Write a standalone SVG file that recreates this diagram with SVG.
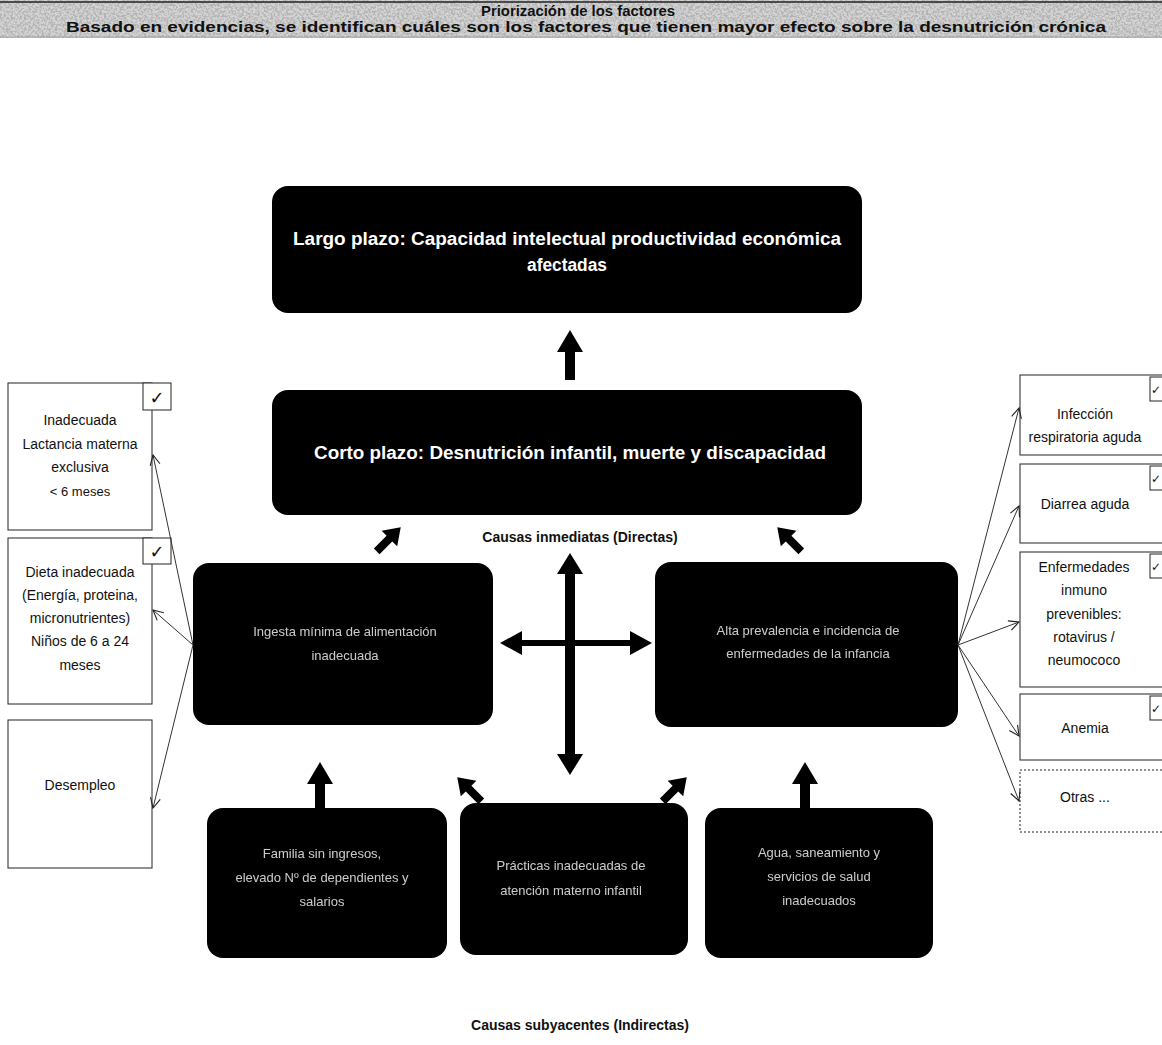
<svg xmlns="http://www.w3.org/2000/svg" width="1162" height="1045" viewBox="0 0 1162 1045">
<defs>
<filter id="noise" x="0" y="0" width="100%" height="100%">
<feTurbulence type="fractalNoise" baseFrequency="0.45" numOctaves="3" seed="7" result="t"/>
<feColorMatrix in="t" type="matrix" values="0 0 0 0 0.45  0 0 0 0 0.45  0 0 0 0 0.45  4 0 0 0 -1.6" result="g"/>
<feComposite in="g" in2="SourceGraphic" operator="in"/>
</filter>
<marker id="open" viewBox="0 0 12 12" refX="11" refY="6" markerWidth="12" markerHeight="12" markerUnits="userSpaceOnUse" orient="auto">
<path d="M1,1 L11,6 L1,11" fill="none" stroke="#222" stroke-width="1.1"/>
</marker>
<path id="upArrow" d="M0,-26 L13,-4 L5,-4 L5,24 L-5,24 L-5,-4 L-13,-4 Z"/>
<path id="smallArrow" d="M0,-18 L11,-2 L4,-2 L4,16 L-4,16 L-4,-2 L-11,-2 Z"/>
</defs>
<style>
.dark{fill:#000;}
.wt{fill:#fff;font-family:"Liberation Sans",Arial,sans-serif;font-weight:bold;text-anchor:middle;}
.dt{fill:#eee;font-family:"Liberation Sans",Arial,sans-serif;font-size:13px;text-anchor:middle;opacity:0.85;}
.box{fill:#fff;stroke:#222;stroke-width:1;}
.bt{fill:#111;font-family:"Liberation Sans",Arial,sans-serif;font-size:14px;text-anchor:middle;}
.lbl{fill:#111;font-family:"Liberation Sans",Arial,sans-serif;font-size:14px;font-weight:bold;text-anchor:middle;}
.ck{fill:#fff;stroke:#222;stroke-width:1;}
.ckt{fill:#111;font-family:"DejaVu Sans",sans-serif;font-size:18px;text-anchor:middle;}
.ckr{fill:#111;font-family:"DejaVu Sans",sans-serif;font-size:12px;text-anchor:middle;}
.conn{stroke:#333;stroke-width:1;fill:none;}
.blk{fill:#000;}
</style>
<rect width="1162" height="1045" fill="#fff"/>

<g id="header">
<rect x="0" y="0" width="1162" height="38" fill="#d4d4d4"/>
<rect x="0" y="0" width="1162" height="38" fill="#888" filter="url(#noise)"/>
<line x1="0" y1="2" x2="1162" y2="2" stroke="#222" stroke-width="1.5"/>
<line x1="0" y1="37" x2="1162" y2="37" stroke="#999" stroke-width="0.8"/>
<text x="578" y="16" class="lbl" style="font-size:14px" textLength="194" lengthAdjust="spacingAndGlyphs">Priorización de los factores</text>
<text x="586" y="32" class="lbl" style="font-size:14px" textLength="1040" lengthAdjust="spacingAndGlyphs">Basado en evidencias, se identifican cuáles son los factores que tienen mayor efecto sobre la desnutrición crónica</text>
</g>

<g id="largo-plazo">
<rect x="272" y="186" width="590" height="127" rx="16" class="dark"/>
<text x="567" y="245" class="wt" style="font-size:18px" textLength="548" lengthAdjust="spacingAndGlyphs">Largo plazo: Capacidad intelectual  productividad económica</text>
<text x="567" y="271" class="wt" style="font-size:18px" textLength="80" lengthAdjust="spacingAndGlyphs">afectadas</text>
</g>

<g id="corto-plazo">
<rect x="272" y="390" width="590" height="125" rx="16" class="dark"/>
<text x="570" y="459" class="wt" style="font-size:18px" textLength="512" lengthAdjust="spacingAndGlyphs">Corto plazo: Desnutrición infantil, muerte y discapacidad</text>
</g>

<g id="ingesta">
<rect x="193" y="563" width="300" height="162" rx="16" class="dark"/>
<text x="345" y="636" class="dt">Ingesta mínima de alimentación</text>
<text x="345" y="660" class="dt">inadecuada</text>
</g>

<g id="enfermedades">
<rect x="655" y="562" width="303" height="165" rx="16" class="dark"/>
<text x="808" y="635" class="dt">Alta prevalencia e incidencia de</text>
<text x="808" y="658" class="dt">enfermedades de la infancia</text>
</g>

<g id="familia">
<rect x="207" y="808" width="240" height="150" rx="16" class="dark"/>
<text x="322" y="858" class="dt">Familia sin ingresos,</text>
<text x="322" y="882" class="dt">elevado Nº de dependientes y</text>
<text x="322" y="906" class="dt">salarios</text>
</g>

<g id="practicas">
<rect x="460" y="803" width="228" height="152" rx="16" class="dark"/>
<text x="571" y="870" class="dt">Prácticas inadecuadas de</text>
<text x="571" y="895" class="dt">atención materno infantil</text>
</g>

<g id="agua">
<rect x="705" y="808" width="228" height="150" rx="16" class="dark"/>
<text x="819" y="857" class="dt">Agua, saneamiento y</text>
<text x="819" y="881" class="dt">servicios de salud</text>
<text x="819" y="905" class="dt">inadecuados</text>
</g>

<g id="causas-inmediatas">
<text x="580" y="542" class="lbl">Causas inmediatas (Directas)</text>
</g>
<g id="causas-subyacentes">
<text x="580" y="1030" class="lbl">Causas subyacentes (Indirectas)</text>
</g>

<g id="lactancia">
<rect x="8" y="383" width="144" height="147" class="box"/>
<rect x="143" y="383" width="28" height="27" class="ck"/>
<text x="157" y="404" class="ckt">✓</text>
<text x="80" y="425" class="bt">Inadecuada</text>
<text x="80" y="449" class="bt">Lactancia materna</text>
<text x="80" y="472" class="bt">exclusiva</text>
<text x="80" y="496" class="bt" style="font-size:13px">&lt; 6 meses</text>
</g>

<g id="dieta">
<rect x="8" y="538" width="144" height="166" class="box"/>
<rect x="143" y="538" width="28" height="26" class="ck"/>
<text x="157" y="558" class="ckt">✓</text>
<text x="80" y="577" class="bt">Dieta inadecuada</text>
<text x="80" y="600" class="bt">(Energía, proteina,</text>
<text x="80" y="623" class="bt">micronutrientes)</text>
<text x="80" y="646" class="bt">Niños de 6 a 24</text>
<text x="80" y="670" class="bt">meses</text>
</g>

<g id="desempleo">
<rect x="8" y="720" width="144" height="148" class="box"/>
<text x="80" y="790" class="bt">Desempleo</text>
</g>

<g id="infeccion">
<rect x="1020" y="375" width="150" height="80" class="box"/>
<rect x="1150" y="377" width="20" height="24" class="ck"/>
<text x="1156" y="394" class="ckr">✓</text>
<text x="1085" y="419" class="bt">Infección</text>
<text x="1085" y="442" class="bt">respiratoria aguda</text>
</g>

<g id="diarrea">
<rect x="1020" y="464" width="150" height="79" class="box"/>
<rect x="1150" y="466" width="20" height="24" class="ck"/>
<text x="1156" y="483" class="ckr">✓</text>
<text x="1085" y="509" class="bt">Diarrea aguda</text>
</g>

<g id="inmuno">
<rect x="1020" y="552" width="150" height="135" class="box"/>
<rect x="1150" y="554" width="20" height="24" class="ck"/>
<text x="1156" y="571" class="ckr">✓</text>
<text x="1084" y="572" class="bt">Enfermedades</text>
<text x="1084" y="595" class="bt">inmuno</text>
<text x="1084" y="619" class="bt">prevenibles:</text>
<text x="1084" y="642" class="bt">rotavirus /</text>
<text x="1084" y="665" class="bt">neumococo</text>
</g>

<g id="anemia">
<rect x="1020" y="694" width="150" height="66" class="box"/>
<rect x="1150" y="696" width="20" height="24" class="ck"/>
<text x="1156" y="713" class="ckr">✓</text>
<text x="1085" y="733" class="bt">Anemia</text>
</g>

<g id="otras">
<rect x="1020" y="770" width="150" height="62" class="box" style="stroke-dasharray:2 2"/>
<text x="1085" y="802" class="bt">Otras ...</text>
</g>

<g id="connectors">
<use href="#upArrow" x="570" y="356" class="blk"/>
<use href="#smallArrow" transform="translate(388,540) rotate(45)" class="blk"/>
<use href="#smallArrow" transform="translate(790,540) rotate(-45)" class="blk"/>
<path class="blk" d="M570,553 L583,574 L575,574 L575,640 L630,640 L630,631 L652,643 L630,655 L630,646 L575,646 L575,754 L583,754 L570,775 L557,754 L565,754 L565,646 L522,646 L522,655 L500,643 L522,631 L522,640 L565,640 L565,574 L557,574 Z"/>
<use href="#upArrow" x="320" y="788" class="blk"/>
<use href="#upArrow" x="805" y="788" class="blk"/>
<use href="#smallArrow" transform="translate(470,790) rotate(-45)" class="blk"/>
<use href="#smallArrow" transform="translate(674,790) rotate(45)" class="blk"/>
<line x1="193" y1="645" x2="153" y2="455" class="conn" marker-end="url(#open)"/>
<line x1="193" y1="645" x2="153" y2="610" class="conn" marker-end="url(#open)"/>
<line x1="193" y1="645" x2="153" y2="808" class="conn" marker-end="url(#open)"/>
<line x1="958" y1="645" x2="1019" y2="408" class="conn" marker-end="url(#open)"/>
<line x1="958" y1="645" x2="1019" y2="506" class="conn" marker-end="url(#open)"/>
<line x1="958" y1="645" x2="1019" y2="622" class="conn" marker-end="url(#open)"/>
<line x1="958" y1="645" x2="1019" y2="736" class="conn" marker-end="url(#open)"/>
<line x1="958" y1="645" x2="1019" y2="801" class="conn" marker-end="url(#open)"/>
</g>
</svg>
